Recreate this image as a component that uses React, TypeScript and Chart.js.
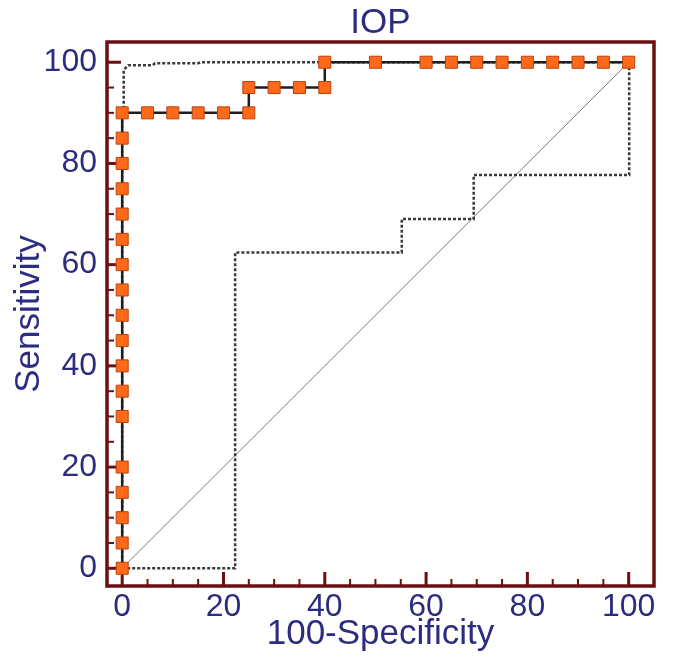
import React, { useEffect, useRef } from "react";
import { Chart, registerables } from "chart.js";

Chart.register(...registerables);

const TITLE = "IOP";
const X_TITLE = "100-Specificity";
const Y_TITLE = "Sensitivity";

const MAJOR_TICKS = [0, 20, 40, 60, 80, 100];
const MINOR_TICKS = [5, 10, 15, 25, 30, 35, 45, 50, 55, 65, 70, 75, 85, 90, 95];

// ROC curve (with markers)
const ROC_X = [
  0, 0, 0, 0, 0, 0, 0, 0, 0, 0, 0, 0, 0, 0, 0, 0, 0, 0,
  5, 10, 15, 20, 25,
  25, 30, 35, 40,
  40, 50, 60, 65, 70, 75, 80, 85, 90, 95, 100,
];
const ROC_Y = [
  0, 5, 10, 15, 20, 30, 35, 40, 45, 50, 55, 60, 65, 70, 75, 80, 85, 90,
  90, 90, 90, 90, 90,
  95, 95, 95, 95,
  100, 100, 100, 100, 100, 100, 100, 100, 100, 100, 100,
];

// Upper confidence bound (dotted)
const UPPER_X = [0, 0, 0.3, 0.3, 1.2, 6, 6.5, 15, 15.5, 100];
const UPPER_Y = [0, 90, 90.5, 98.5, 99.4, 99.4, 99.8, 99.8, 100, 100];

// Lower confidence bound (dotted)
const LOWER_X = [0, 22.3, 22.3, 55.2, 55.2, 69.4, 69.4, 100.1, 100.1];
const LOWER_Y = [0, 0, 62.4, 62.4, 69, 69, 77.7, 77.7, 100];

// Reference diagonal
const DIAG_X = [0, 100];
const DIAG_Y = [0, 100];

const NAVY = "#2c2c80";
const FRAME = "#6b0f12";
const ORANGE = "#ff6a1a";
const ORANGE_EDGE = "#b8430f";
const FONT = "'Liberation Sans', Arial, Helvetica, sans-serif";

const toPts = (xs: number[], ys: number[]) => xs.map((x, i) => ({ x, y: ys[i] }));

const framePlugin = {
  id: "frameTicks",
  beforeDatasetsDraw(chart: any) {
    const { ctx, chartArea: a, scales } = chart;
    ctx.save();
    ctx.strokeStyle = FRAME;
    ctx.lineCap = "butt";
    ctx.lineWidth = 2;
    for (const v of MINOR_TICKS) {
      const x = scales.x.getPixelForValue(v);
      ctx.beginPath();
      ctx.moveTo(x, a.bottom);
      ctx.lineTo(x, a.bottom - 7);
      ctx.stroke();
      const y = scales.y.getPixelForValue(v);
      ctx.beginPath();
      ctx.moveTo(a.left, y);
      ctx.lineTo(a.left + 7, y);
      ctx.stroke();
    }
    ctx.lineWidth = 3;
    for (const v of MAJOR_TICKS) {
      const x = scales.x.getPixelForValue(v);
      ctx.beginPath();
      ctx.moveTo(x, a.bottom);
      ctx.lineTo(x, a.bottom - 14);
      ctx.stroke();
      const y = scales.y.getPixelForValue(v);
      ctx.beginPath();
      ctx.moveTo(a.left, y);
      ctx.lineTo(a.left + 14, y);
      ctx.stroke();
    }
    ctx.lineWidth = 3.5;
    ctx.strokeRect(a.left, a.top, a.right - a.left, a.bottom - a.top);
    ctx.restore();
  },
};

export default function App() {
  const ref = useRef<HTMLCanvasElement | null>(null);

  useEffect(() => {
    if (!ref.current) return;
    const setTicks = (scale: any) => {
      scale.ticks = MAJOR_TICKS.map((v) => ({ value: v }));
    };
    const chart = new Chart(ref.current, {
      type: "line",
      data: {
        datasets: [
          {
            data: toPts(ROC_X, ROC_Y),
            borderColor: "#1e1e1e",
            borderWidth: 2.5,
            pointStyle: "rect",
            pointRadius: 8.5,
            pointBackgroundColor: ORANGE,
            pointBorderColor: ORANGE_EDGE,
            pointBorderWidth: 1,
            fill: false,
          },
          {
            data: toPts(UPPER_X, UPPER_Y),
            borderColor: "#3a3a3a",
            borderWidth: 2.5,
            borderDash: [3, 2],
            pointRadius: 0,
            fill: false,
          },
          {
            data: toPts(LOWER_X, LOWER_Y),
            borderColor: "#3a3a3a",
            borderWidth: 2.5,
            borderDash: [3, 2],
            pointRadius: 0,
            fill: false,
          },
          {
            data: toPts(DIAG_X, DIAG_Y),
            borderColor: "#7a7a7a",
            borderWidth: 1,
            pointRadius: 0,
            fill: false,
          },
        ],
      },
      options: {
        animation: false,
        responsive: true,
        maintainAspectRatio: false,
        layout: { padding: { left: 0, right: 20, top: 0, bottom: 0 } },
        plugins: {
          legend: { display: false },
          tooltip: { enabled: false },
          title: { display: false },
        },
        scales: {
          x: {
            type: "linear",
            min: -3,
            max: 105,
            grid: { display: false, drawTicks: false },
            border: { display: false },
            afterBuildTicks: setTicks,
            afterFit: (s: any) => {
              s.height = 76;
            },
            ticks: {
              color: NAVY,
              font: { family: FONT, size: 32 },
              padding: 2,
              autoSkip: false,
              maxRotation: 0,
            },
            title: {
              display: true,
              text: X_TITLE,
              color: NAVY,
              font: { family: FONT, size: 35, lineHeight: 1.0 },
              padding: { top: 0, bottom: 10 },
            },
          },
          xTop: {
            type: "linear",
            position: "top",
            min: -3,
            max: 105,
            grid: { display: false, drawTicks: false },
            border: { display: false },
            ticks: { display: false },
            afterFit: (s: any) => {
              s.height = 42;
            },
            title: {
              display: true,
              text: TITLE,
              color: NAVY,
              font: { family: FONT, size: 35, lineHeight: 1.0 },
              padding: { top: 6, bottom: 0 },
            },
          },
          y: {
            type: "linear",
            min: -3.5,
            max: 104,
            grid: { display: false, drawTicks: false },
            border: { display: false },
            afterBuildTicks: setTicks,
            afterFit: (s: any) => {
              s.width = 107;
            },
            ticks: {
              color: NAVY,
              font: { family: FONT, size: 32 },
              padding: 10,
              autoSkip: false,
            },
            title: {
              display: true,
              text: Y_TITLE,
              color: NAVY,
              font: { family: FONT, size: 35, lineHeight: 1.0 },
              padding: { top: 12, bottom: 0 },
            },
          },
        },
      },
      plugins: [framePlugin],
    });
    return () => chart.destroy();
  }, []);

  return (
    <div style={{ position: "absolute", left: 0, top: 0, width: 674, height: 662, background: "#fff" }}>
      <canvas ref={ref} />
    </div>
  );
}
